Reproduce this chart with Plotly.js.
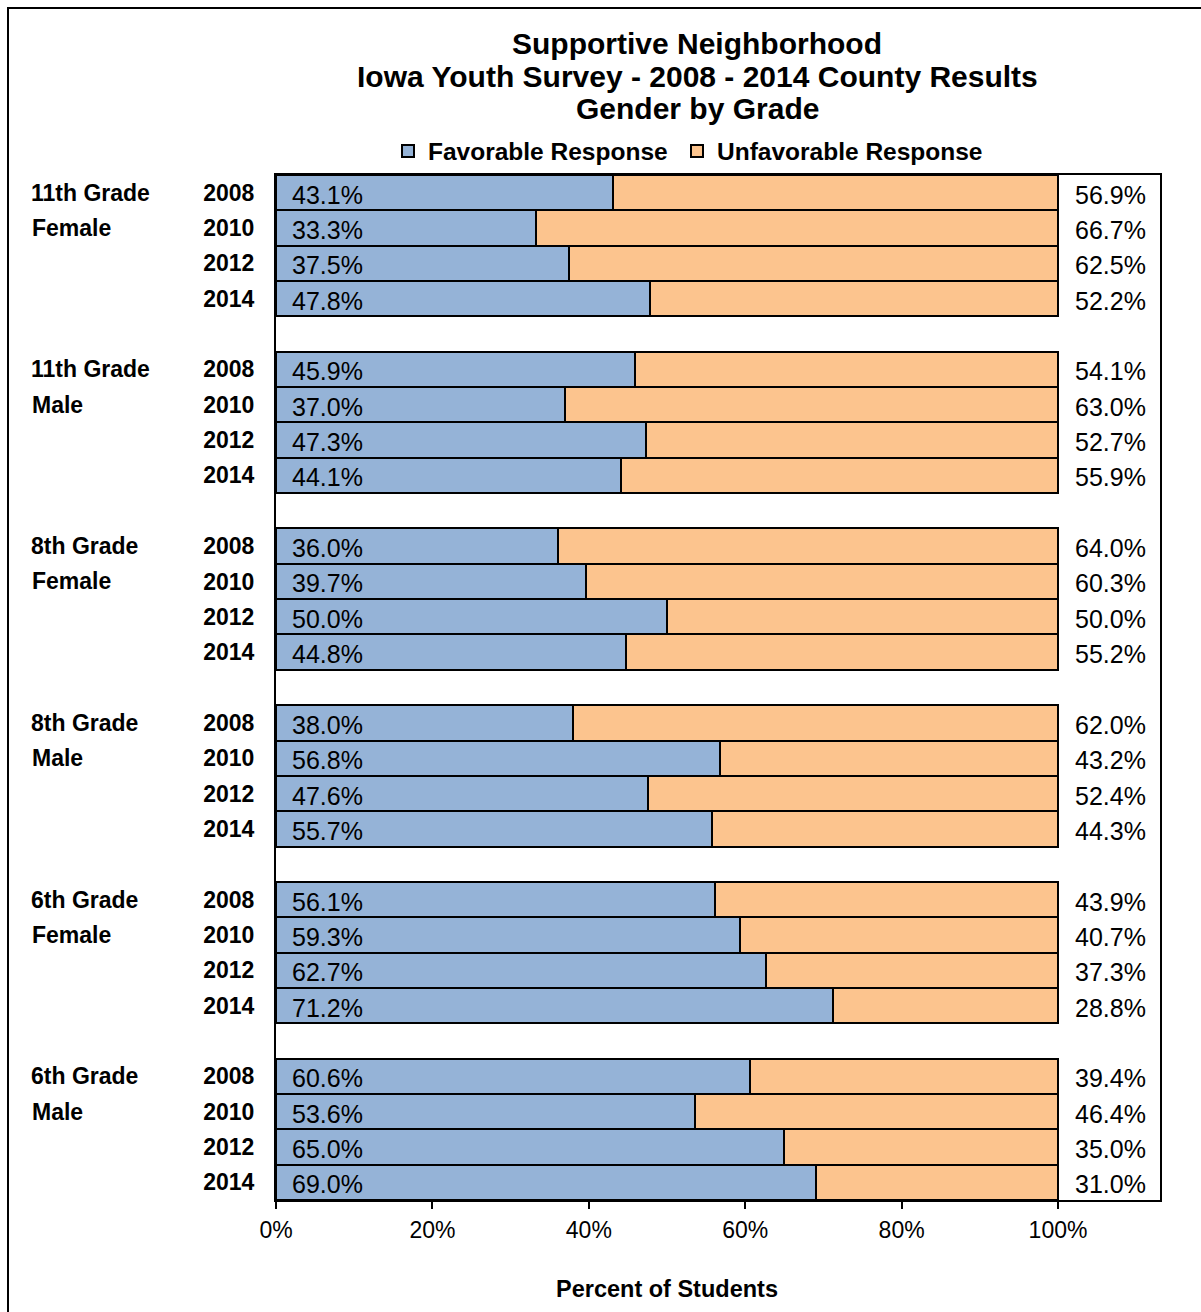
<!DOCTYPE html>
<html><head><meta charset="utf-8">
<script src="https://cdn.plot.ly/plotly-3.0.1.min.js"></script>
<style>html,body{margin:0;padding:0;background:#fff;overflow:hidden}</style>
</head><body><div id="chart" style="width:1201px;height:1312px"></div>
<script>
// ---- data ----
const grades = ["11th Grade", "11th Grade", "8th Grade", "8th Grade", "6th Grade", "6th Grade"];
const genders = ["Female", "Male", "Female", "Male", "Female", "Male"];
const years = ["2008", "2010", "2012", "2014"];
const favorable = [
  43.1, 33.3, 37.5, 47.8,
  45.9, 37.0, 47.3, 44.1,
  36.0, 39.7, 50.0, 44.8,
  38.0, 56.8, 47.6, 55.7,
  56.1, 59.3, 62.7, 71.2,
  60.6, 53.6, 65.0, 69.0
];
const unfavorable = [
  56.9, 66.7, 62.5, 52.2,
  54.1, 63.0, 52.7, 55.9,
  64.0, 60.3, 50.0, 55.2,
  62.0, 43.2, 52.4, 44.3,
  43.9, 40.7, 37.3, 28.8,
  39.4, 46.4, 35.0, 31.0
];
const xTickVals = [0, 20, 40, 60, 80, 100];
const xTickText = ["0%", "20%", "40%", "60%", "80%", "100%"];
const titleLines = ["Supportive Neighborhood", "Iowa Youth Survey - 2008 - 2014 County Results", "Gender by Grade"];
const seriesNames = ["Favorable Response", "Unfavorable Response"];
const xAxisTitle = "Percent of Students";

// ---- layout helpers ----
const FONT = "Liberation Sans, Arial, Helvetica, sans-serif";
const nYears = years.length;
const slot = i => Math.floor(i / nYears) * (nYears + 1) + (i % nYears);
const pos = favorable.map((_, i) => slot(i));
const yearLabels = favorable.map((_, i) => years[i % nYears]);
const fmt = v => v.toFixed(1) + "%";
const px2x = p => (p - 276) / 884;
const px2y = p => (1200 - p) / 1025;

const traces = [
  {type: "bar", orientation: "h", name: seriesNames[0], x: favorable, y: pos, width: 1, legend: "legend",
   marker: {color: "#95B3D7", line: {color: "#000", width: 2}}, hoverinfo: "x+name"},
  {type: "bar", orientation: "h", name: seriesNames[1], x: unfavorable, y: pos, width: 1, legend: "legend2",
   marker: {color: "#FCC48E", line: {color: "#000", width: 2}}, hoverinfo: "x+name"}
];

const ann = [];
// value labels
favorable.forEach((v, i) => ann.push({xref: "x", yref: "y", x: 0, y: pos[i], xanchor: "left", yanchor: "middle",
  xshift: 14, yshift: -2, showarrow: false, text: fmt(v), font: {family: FONT, size: 25, color: "#000"}}));
unfavorable.forEach((v, i) => ann.push({xref: "x", yref: "y", x: 100, y: pos[i], xanchor: "left", yanchor: "middle",
  xshift: 15, yshift: -2, showarrow: false, text: fmt(v), font: {family: FONT, size: 25, color: "#000"}}));
// group labels
grades.forEach((g, k) => {
  const y0 = k * (nYears + 1);
  ann.push({xref: "paper", yref: "y", x: px2x(29), y: y0, xanchor: "left", yanchor: "middle", showarrow: false,
    text: g, font: {family: FONT, size: 23, color: "#000", weight: "bold"}});
  ann.push({xref: "paper", yref: "y", x: px2x(30), y: y0 + 1, xanchor: "left", yanchor: "middle", showarrow: false,
    text: genders[k], font: {family: FONT, size: 23, color: "#000", weight: "bold"}});
});
// title lines
const titleY = [43, 77, 109];
titleLines.forEach((t, k) => ann.push({xref: "paper", yref: "paper", x: px2x(697), y: px2y(titleY[k]),
  xanchor: "center", yanchor: "middle", showarrow: false, text: t, font: {family: FONT, size: 30, color: "#000", weight: "bold"}}));
// x axis title
ann.push({xref: "x", yref: "paper", x: 50, y: px2y(1289), xanchor: "center", yanchor: "middle", showarrow: false,
  text: xAxisTitle, font: {family: FONT, size: 23.5, color: "#000", weight: "bold"}});

const legendBase = {orientation: "h", xanchor: "left", y: px2y(151), yanchor: "middle",
  font: {family: FONT, size: 24.5, color: "#000", weight: "bold"}, bgcolor: "rgba(0,0,0,0)", borderwidth: 0};

const layout = {
  width: 1201, height: 1312,
  margin: {l: 276, r: 41, t: 175, b: 112, pad: 0},
  paper_bgcolor: "#fff", plot_bgcolor: "#fff",
  barmode: "stack", bargap: 0,
  showlegend: true,
  legend: Object.assign({}, legendBase, {x: px2x(388)}),
  legend2: Object.assign({}, legendBase, {x: px2x(677)}),
  xaxis: {range: [0, 113.04], tickvals: xTickVals, ticktext: xTickText, showgrid: false, zeroline: false,
    showline: true, mirror: true, linecolor: "#000", linewidth: 2,
    ticks: "outside", ticklen: 7, tickwidth: 2, tickcolor: "#000", ticklabelstandoff: 1,
    tickfont: {family: FONT, size: 23, color: "#000"}, fixedrange: true},
  yaxis: {range: [28.5, -0.5], tickvals: pos, ticktext: yearLabels, showgrid: false, zeroline: false,
    showline: true, mirror: true, linecolor: "#000", linewidth: 2, ticks: "", ticklabelstandoff: 15,
    tickfont: {family: FONT, size: 23, color: "#000", weight: "bold"}, fixedrange: true},
  annotations: ann,
  shapes: [{type: "rect", xref: "paper", yref: "paper", x0: px2x(8), x1: px2x(1215),
    y0: px2y(1325), y1: px2y(8), line: {color: "#000", width: 2}, fillcolor: "rgba(0,0,0,0)", layer: "above"}],
  font: {family: FONT, color: "#000"}
};

Plotly.newPlot("chart", traces, layout, {displayModeBar: false, staticPlot: true});
</script>
</body></html>
